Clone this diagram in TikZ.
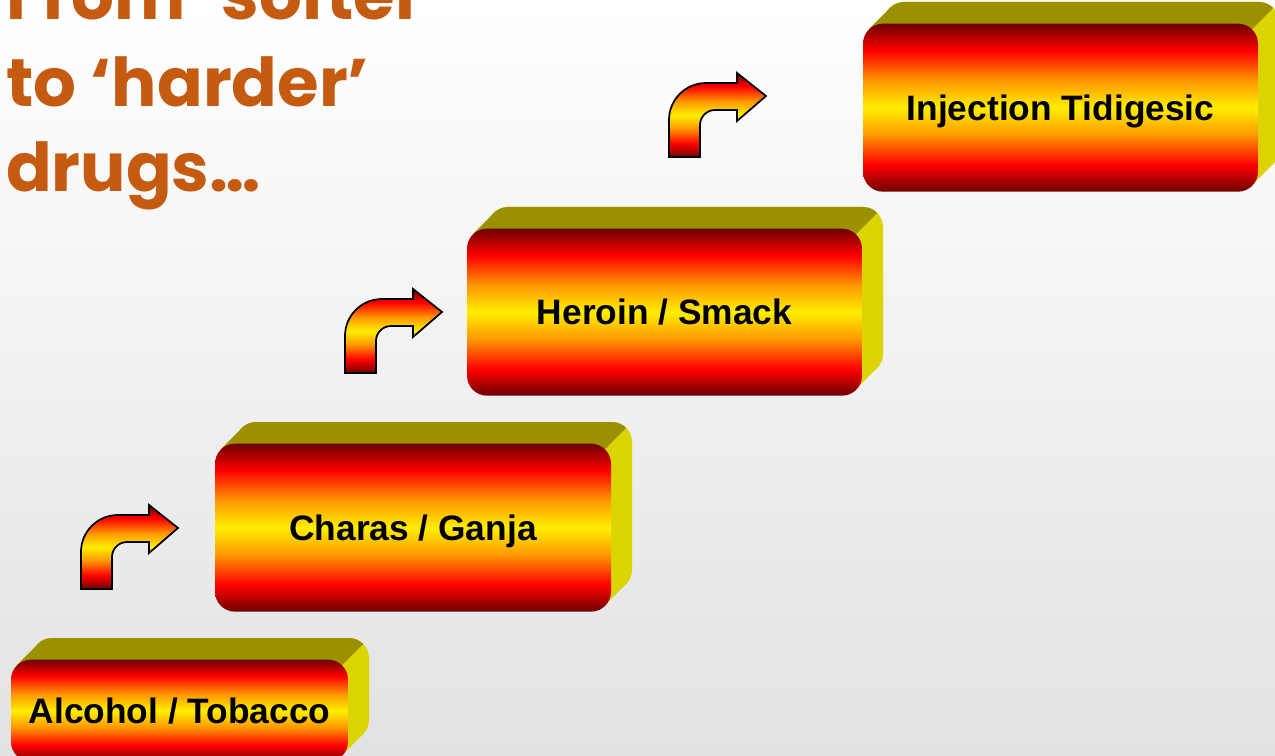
\documentclass[tikz,border=0pt]{standalone}
\usepackage{fontspec}
\setmainfont{Liberation Sans}
\newfontfamily\titlefont{Poppins}
\definecolor{fdark}{HTML}{6E0000}
\definecolor{fred}{HTML}{FF0000}
\definecolor{forange}{HTML}{FF9900}
\definecolor{fyellow}{HTML}{FFEE00}
\definecolor{topolive}{HTML}{9A9000}
\definecolor{sideyel}{HTML}{DCD400}
\definecolor{titlecol}{HTML}{C55A11}
\definecolor{bgbot}{HTML}{E2E2E2}
\pgfdeclareverticalshading{fire}{100bp}{color(0bp)=(fdark); color(25bp)=(fdark); color(33bp)=(fred); color(42bp)=(forange); color(50bp)=(fyellow); color(58bp)=(forange); color(67bp)=(fred); color(75bp)=(fdark); color(100bp)=(fdark)}
\tikzset{
  front/.style={rectangle, rounded corners=15pt, shade, shading=fire, draw=none, inner sep=0pt,
    text height=19pt, text depth=0pt, yshift=-0.5pt,
    font=\bfseries\fontsize{26.5}{30}\selectfont, text=black},
  titletext/.style={anchor=base west, inner sep=0pt, text=titlecol,
    font=\titlefont\bfseries\fontsize{50.5}{56}\selectfont},
  arrowshape/.style={shade, shading=fire, draw=black, line width=1.3pt, line join=miter}
}
% extrusion of a box: x1 y1 x2 y2 (pixels, y down)
\newcommand\slabfill[5]{%
  \fill[#5, rounded corners=15pt] ({#1+21},{#2-21}) rectangle ({#3+21},{#4-21});
  \fill[#5] ({#1+6},{#2+6}) -- ({#1+27},{#2-15}) -- ({#3+15},{#4-27}) -- ({#3-6},{#4-6}) -- cycle;
}
\newcommand\slab[4]{%
  \slabfill{#1}{#2}{#3}{#4}{sideyel}
  \begin{scope}
    \clip ({#1-40},{#2+8}) -- ({#3-8},{#2+8}) -- ({#3+54},{#2-54}) -- ({#1-40},{#2-54}) -- cycle;
    \slabfill{#1}{#2}{#3}{#4}{topolive}
  \end{scope}
}
\newcommand\drugbox[6]{%
  \slab{#1}{#2}{#3}{#4}
  \node[front, minimum width={(#3-#1)*0.75pt}, minimum height={(#4-#2)*0.75pt}] (#5)
    at ({(#1+#3)/2},{(#2+#4)/2}) {#6};
}
\newcommand\bentarrow[2]{%
  \path[arrowshape, shift={(#1,#2)}] (0,0) -- (0,-37) arc[start angle=180, end angle=270, radius=37]
    -- (68,-74) -- (68,-84) -- (97,-61) -- (68,-36) -- (68,-47) -- (46,-47)
    arc[start angle=270, end angle=180, radius=15] -- (31,0) -- cycle;
}
\begin{document}
\begin{tikzpicture}[x=0.75pt,y=-0.75pt]
\useasboundingbox (0,0) rectangle (1275,756);
\clip (0,0) rectangle (1275,756);
\shade[top color=white, bottom color=bgbot] (0,0) rectangle (1275,756);
% title
\node[titletext] (t1) at (6,20) {From ‘softer’};
\node[titletext] (t2) at (6,107) {to ‘harder’};
\node[titletext] (t3) at (6,192) {drugs…};
% boxes
\drugbox{11}{659}{348}{761}{alcohol}{Alcohol / Tobacco}
\drugbox{215}{443}{611}{611}{charas}{Charas / Ganja}
\drugbox{467}{228}{862}{395}{heroin}{Heroin / Smack}
\drugbox{863}{23}{1258}{191}{injection}{Injection Tidigesic}
% arrows
\bentarrow{81}{589}
\bentarrow{345}{373}
\bentarrow{669}{157}
\end{tikzpicture}
\end{document}
